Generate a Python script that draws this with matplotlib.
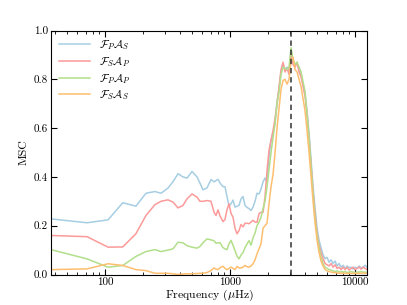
import matplotlib
matplotlib.use("Agg")
import matplotlib.pyplot as plt
from matplotlib.ticker import FuncFormatter, NullFormatter, LogLocator

plt.rcParams["font.family"] = "serif"
plt.rcParams["font.serif"] = ["cmr10", "DejaVu Serif"]
plt.rcParams["mathtext.fontset"] = "cm"
plt.rcParams["axes.formatter.use_mathtext"] = True
plt.rcParams["font.size"] = 8

# Frequency grid (μHz)
FREQ = [37, 72, 106, 139, 177, 213, 251, 281, 319, 350, 384, 421, 453, 497, 545,
        575, 608, 655, 705, 745, 773, 802, 832, 879, 912, 946, 982, 1019, 1057,
        1096, 1138, 1180, 1225, 1271, 1318, 1368, 1419, 1472, 1528, 1585, 1644,
        1706, 1770, 1837, 1905, 1977, 2051, 2128, 2208, 2291, 2377, 2466, 2559,
        2655, 2754, 2858, 2965, 3076, 3192, 3311, 3436, 3565, 3698, 3837, 3981,
        4130, 4285, 4446, 4613, 4786, 4966, 5152, 5346, 5546, 5754, 5970, 6194,
        6427, 6668, 6918, 7178, 7447, 7727, 8017, 8318, 8630, 8954, 9290, 9638,
        10000, 10375, 10765, 11169, 11588, 12023, 12474]

MSC_FPAS = [0.228, 0.212, 0.224, 0.294, 0.280, 0.333, 0.340, 0.333, 0.354, 0.380,
            0.413, 0.400, 0.395, 0.422, 0.400, 0.375, 0.347, 0.355, 0.389, 0.380,
            0.385, 0.390, 0.375, 0.360, 0.360, 0.320, 0.280, 0.290, 0.305, 0.276,
            0.280, 0.283, 0.310, 0.320, 0.283, 0.275, 0.270, 0.262, 0.276, 0.300,
            0.333, 0.330, 0.350, 0.380, 0.395, 0.380, 0.480, 0.550, 0.580, 0.620,
            0.710, 0.760, 0.830, 0.860, 0.840, 0.850, 0.830, 0.920, 0.870, 0.865,
            0.860, 0.840, 0.820, 0.780, 0.740, 0.670, 0.580, 0.470, 0.360, 0.270,
            0.190, 0.140, 0.110, 0.080, 0.065, 0.070, 0.050, 0.060, 0.045, 0.055,
            0.035, 0.045, 0.030, 0.038, 0.025, 0.035, 0.028, 0.030, 0.022, 0.030,
            0.025, 0.035, 0.025, 0.030, 0.038, 0.030]

MSC_FSAP = [0.160, 0.155, 0.112, 0.113, 0.167, 0.242, 0.286, 0.300, 0.306, 0.297,
            0.273, 0.283, 0.310, 0.330, 0.317, 0.300, 0.300, 0.303, 0.300, 0.255,
            0.242, 0.265, 0.240, 0.217, 0.225, 0.265, 0.290, 0.250, 0.235, 0.190,
            0.167, 0.180, 0.205, 0.195, 0.210, 0.210, 0.208, 0.215, 0.222, 0.215,
            0.214, 0.249, 0.255, 0.255, 0.317, 0.426, 0.510, 0.550, 0.590, 0.640,
            0.700, 0.770, 0.840, 0.870, 0.830, 0.845, 0.820, 0.910, 0.860, 0.850,
            0.870, 0.830, 0.810, 0.770, 0.730, 0.660, 0.560, 0.450, 0.340, 0.250,
            0.170, 0.120, 0.090, 0.065, 0.045, 0.040, 0.035, 0.045, 0.030, 0.040,
            0.025, 0.030, 0.020, 0.030, 0.020, 0.030, 0.018, 0.025, 0.030, 0.020,
            0.025, 0.030, 0.022, 0.030, 0.025, 0.020]

MSC_FPAP = [0.102, 0.064, 0.030, 0.037, 0.074, 0.094, 0.102, 0.094, 0.100, 0.105,
            0.132, 0.130, 0.118, 0.112, 0.108, 0.115, 0.130, 0.146, 0.142, 0.138,
            0.128, 0.130, 0.130, 0.110, 0.105, 0.102, 0.125, 0.140, 0.120, 0.098,
            0.075, 0.064, 0.080, 0.090, 0.110, 0.125, 0.139, 0.120, 0.150, 0.170,
            0.200, 0.215, 0.235, 0.270, 0.300, 0.360, 0.430, 0.500, 0.560, 0.620,
            0.700, 0.750, 0.820, 0.850, 0.845, 0.840, 0.850, 0.930, 0.880, 0.860,
            0.870, 0.850, 0.830, 0.790, 0.750, 0.650, 0.560, 0.440, 0.330, 0.230,
            0.160, 0.110, 0.070, 0.045, 0.030, 0.025, 0.020, 0.018, 0.015, 0.012,
            0.015, 0.010, 0.012, 0.010, 0.012, 0.008, 0.010, 0.012, 0.010, 0.008,
            0.010, 0.010, 0.012, 0.010, 0.010, 0.008]

MSC_FSAS = [0.020, 0.023, 0.044, 0.037, 0.020, 0.016, 0.005, 0.005, 0.005, 0.003,
            0.000, 0.002, 0.003, 0.003, 0.004, 0.005, 0.005, 0.008, 0.016, 0.027,
            0.022, 0.020, 0.028, 0.034, 0.025, 0.020, 0.025, 0.030, 0.025, 0.020,
            0.033, 0.027, 0.027, 0.030, 0.037, 0.032, 0.030, 0.035, 0.044, 0.060,
            0.085, 0.105, 0.126, 0.190, 0.200, 0.210, 0.290, 0.360, 0.410, 0.500,
            0.600, 0.680, 0.760, 0.795, 0.800, 0.780, 0.800, 0.880, 0.890, 0.840,
            0.830, 0.800, 0.770, 0.720, 0.670, 0.590, 0.500, 0.400, 0.300, 0.210,
            0.140, 0.090, 0.055, 0.035, 0.020, 0.015, 0.012, 0.010, 0.008, 0.008,
            0.006, 0.005, 0.006, 0.004, 0.005, 0.004, 0.005, 0.004, 0.005, 0.004,
            0.005, 0.004, 0.005, 0.006, 0.005, 0.005]

NUMAX = 3060

SERIES = [
    (MSC_FPAS, r"$\mathcal{F}_P\mathcal{A}_S$", "#a6cee3"),
    (MSC_FSAP, r"$\mathcal{F}_S\mathcal{A}_P$", "#fb9a99"),
    (MSC_FPAP, r"$\mathcal{F}_P\mathcal{A}_P$", "#b2df8a"),
    (MSC_FSAS, r"$\mathcal{F}_S\mathcal{A}_S$", "#fdbf6f"),
]

fig = plt.figure(figsize=(4.07, 3.05), dpi=100)
ax = fig.add_axes([0.125, 0.1, 0.777, 0.8])

for vals, label, color in SERIES:
    ax.plot(FREQ, vals, color=color, lw=1.1, label=label)

ax.axvline(NUMAX, color="#333333", ls="--", lw=1.1, dashes=(3.5, 2.5))

ax.set_xscale("log")
ax.set_xlim(FREQ[0], FREQ[-1])
ax.set_ylim(0, 1.0)
ax.set_yticks([0.0, 0.2, 0.4, 0.6, 0.8, 1.0])
ax.yaxis.set_major_formatter(FuncFormatter(lambda v, _: f"{v:.1f}"))
ax.xaxis.set_major_locator(LogLocator(base=10))
ax.xaxis.set_major_formatter(FuncFormatter(lambda v, _: f"{v:.0f}"))
ax.xaxis.set_minor_formatter(NullFormatter())
ax.tick_params(which="both", direction="in", top=True, right=True, pad=2)
ax.tick_params(which="major", length=4, width=0.8)
ax.tick_params(which="minor", length=2.5, width=0.6)

ax.set_xlabel(r"Frequency ($\mu$Hz)", fontsize=8.5, labelpad=1)
ax.set_ylabel("MSC", fontsize=8.5, labelpad=4)

ax.legend(loc="upper left", frameon=False, fontsize=8, handlelength=2.8,
          labelspacing=0.25, borderaxespad=0.3)

fig.savefig("out.png", dpi=100)
